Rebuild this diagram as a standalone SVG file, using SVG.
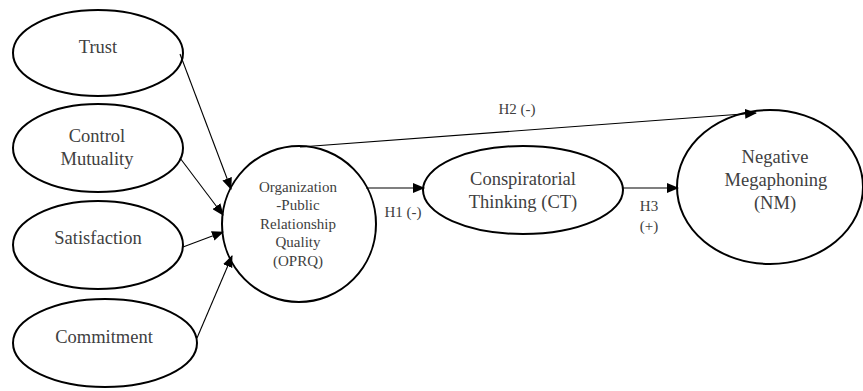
<svg xmlns="http://www.w3.org/2000/svg" width="863" height="391" viewBox="0 0 863 391">
<defs>
<marker id="ah" markerWidth="12" markerHeight="10" refX="11" refY="5" orient="auto" markerUnits="userSpaceOnUse">
<path d="M0,0 L12,5 L0,10 Z" fill="#000"/>
</marker>
<style>
.n{fill:#fff;stroke:#000;stroke-width:2}
text{font-family:'Liberation Serif',serif;fill:#404040;text-anchor:middle}
.big{font-size:18.5px}
.sm{font-size:15px}
.c line{stroke:#000;stroke-width:1.1;marker-end:url(#ah)}
</style>
</defs>
<rect width="863" height="391" fill="#fff"/>
<g id="trust"><ellipse class="n" cx="98" cy="53" rx="85" ry="43"/><text class="big" x="98" y="53">Trust</text></g>
<g id="control"><ellipse class="n" cx="98" cy="148" rx="85" ry="44"/><text class="big" x="97" y="142">Control</text><text class="big" x="97" y="165">Mutuality</text></g>
<g id="satisfaction"><ellipse class="n" cx="98" cy="245" rx="85" ry="44"/><text class="big" x="98" y="244">Satisfaction</text></g>
<g id="commitment"><ellipse class="n" cx="105" cy="343" rx="92" ry="44"/><text class="big" x="104" y="343">Commitment</text></g>
<g id="oprq"><ellipse class="n" cx="299" cy="224" rx="77" ry="78"/>
<text class="sm" x="298" y="192">Organization</text>
<text class="sm" x="298" y="210">-Public</text>
<text class="sm" x="298" y="229">Relationship</text>
<text class="sm" x="298" y="247">Quality</text>
<text class="sm" x="298" y="266">(OPRQ)</text></g>
<g id="ct"><ellipse class="n" cx="523" cy="190" rx="100" ry="44"/><text class="big" x="523" y="185">Conspiratorial</text><text class="big" x="523" y="208">Thinking (CT)</text></g>
<g id="nm"><ellipse class="n" cx="770" cy="187" rx="93" ry="77"/><text class="big" x="775" y="163">Negative</text><text class="big" x="776" y="186">Megaphoning</text><text class="big" x="775" y="209">(NM)</text></g>
<g class="c" id="connectors">
<line x1="180" y1="54" x2="231" y2="189"/>
<line x1="180" y1="158" x2="223" y2="215"/>
<line x1="183" y1="247" x2="223" y2="232"/>
<line x1="197" y1="338" x2="232" y2="256"/>
<line x1="366" y1="188" x2="424" y2="188"/>
<line x1="622" y1="188" x2="678" y2="188"/>
<line x1="300" y1="147" x2="756" y2="113"/>
</g>
<g id="labels">
<text class="sm" x="517" y="114">H2 (-)</text>
<text class="sm" x="403" y="217">H1 (-)</text>
<text class="sm" x="649" y="211">H3</text>
<text class="sm" x="649" y="231">(+)</text>
</g>
</svg>
